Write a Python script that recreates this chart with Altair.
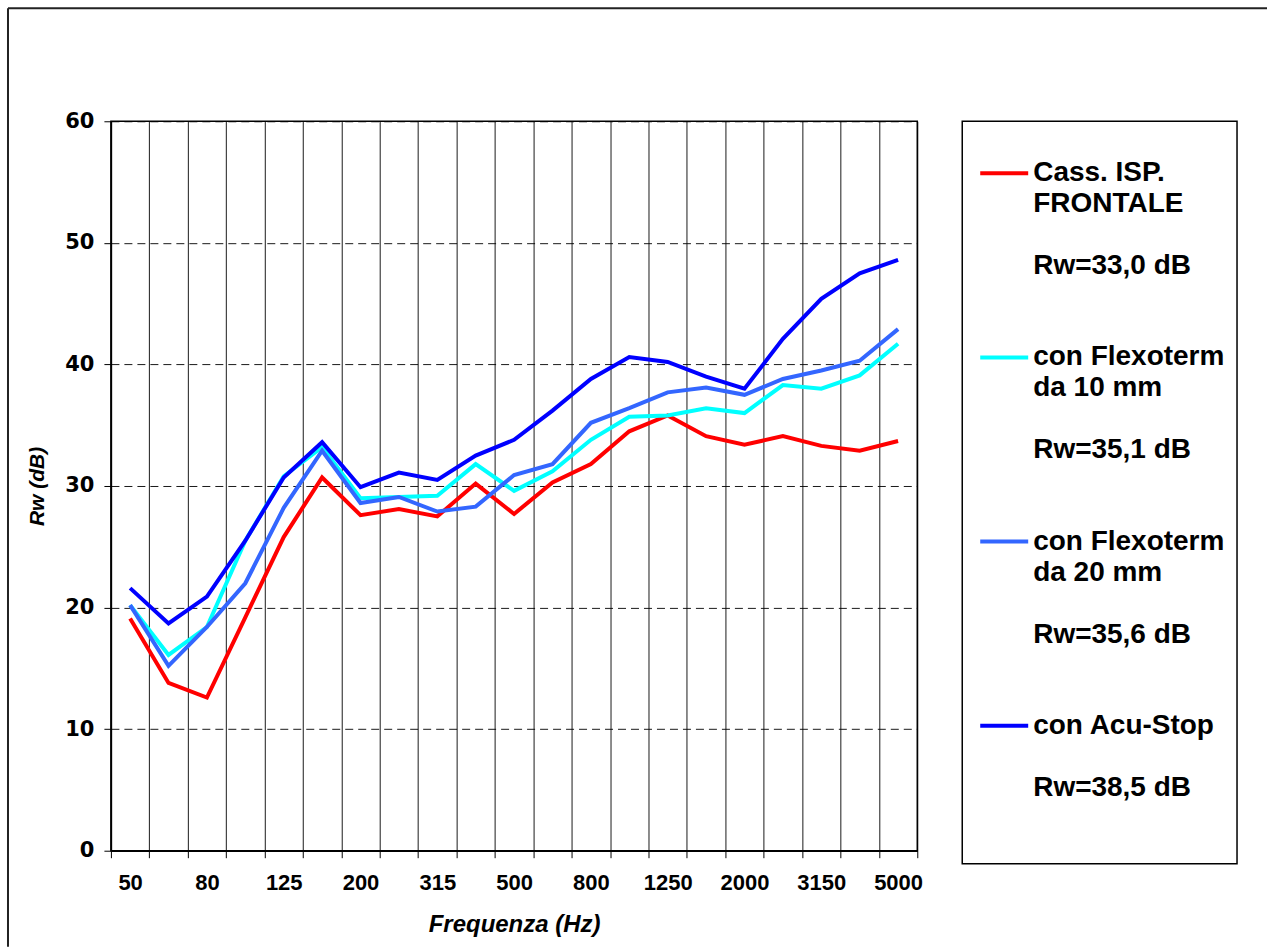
import json
import altair as alt
import pandas as pd

FREQS = ["50", "63", "80", "100", "125", "160", "200", "250", "315", "400", "500",
         "630", "800", "1000", "1250", "1600", "2000", "2500", "3150", "4000", "5000"]
SHOWN = ["50", "80", "125", "200", "315", "500", "800", "1250", "2000", "3150", "5000"]

NAMES = ["Cass. ISP. FRONTALE", "con Flexoterm da 10 mm", "con Flexoterm da 20 mm", "con Acu-Stop"]
TITLES = ["Cass. ISP.\nFRONTALE", "con Flexoterm\nda 10 mm", "con Flexoterm\nda 20 mm", "con Acu-Stop"]
RW_LABELS = ["Rw=33,0 dB", "Rw=35,1 dB", "Rw=35,6 dB", "Rw=38,5 dB"]
COLORS = ["#FF0000", "#00FFFF", "#3366FF", "#0000FF"]

RED = [19.1, 13.8, 12.6, 19.2, 25.8, 30.7, 27.6, 28.1, 27.5, 30.2, 27.7,
       30.3, 31.8, 34.5, 35.8, 34.1, 33.4, 34.1, 33.3, 32.9, 33.7]
CYAN = [20.2, 16.1, 18.4, 25.5, 30.8, 33.2, 29.0, 29.1, 29.2, 31.8, 29.6,
        31.2, 33.8, 35.7, 35.8, 36.4, 36.0, 38.3, 38.0, 39.1, 41.7]
ROYAL = [20.2, 15.2, 18.4, 22.0, 28.2, 32.9, 28.6, 29.1, 27.9, 28.3, 30.9,
         31.8, 35.2, 36.4, 37.7, 38.1, 37.5, 38.8, 39.5, 40.3, 42.9]
BLUE = [21.6, 18.7, 20.9, 25.5, 30.7, 33.6, 29.9, 31.1, 30.5, 32.5, 33.8,
        36.2, 38.8, 40.6, 40.2, 39.0, 38.0, 42.1, 45.4, 47.5, 48.6]
SERIES = [RED, CYAN, ROYAL, BLUE]

LINE_H = 31

rows = []
for name, vals in zip(NAMES, SERIES):
    for f, v in zip(FREQS, vals):
        rows.append({"freq": f, "rw": v, "name": name})
df = pd.DataFrame(rows)
leg_df = pd.DataFrame({"name": NAMES, "title": TITLES, "rwlab": RW_LABELS})

color = alt.Color("name:N", scale=alt.Scale(domain=NAMES, range=COLORS), legend=None)

label_expr = "indexof(" + json.dumps(SHOWN).replace('"', "'") + ", datum.label) >= 0 ? datum.label : ''"

x_enc = alt.X(
    "freq:O", sort=FREQS, bandPosition=0.5,
    scale=alt.Scale(type="band", paddingInner=0, paddingOuter=0),
    axis=alt.Axis(
        title="Frequenza (Hz)", labelAngle=0, labelExpr=label_expr,
        tickBand="extent", grid=True, gridColor="#000000", gridOpacity=0.9, gridWidth=1,
        ticks=True, tickSize=7, tickColor="#000000", domainColor="#000000", domainWidth=1.5,
        labelFont="Liberation Sans", labelFontWeight="bold", labelFontSize=22, labelColor="#000000",
        labelPadding=15,
        titleFont="Liberation Sans", titleFontWeight="bold", titleFontStyle="italic",
        titleFontSize=24, titleColor="#000000", titlePadding=19,
    ),
)
y_enc = alt.Y(
    "rw:Q", scale=alt.Scale(domain=[0, 60], nice=False),
    axis=alt.Axis(
        title="Rw (dB)", values=[0, 10, 20, 30, 40, 50, 60],
        grid=True, gridColor="#000000", gridDash=[8, 5], gridOpacity=0.9, gridWidth=1,
        tickSize=7, tickColor="#000000", domainColor="#000000", domainWidth=1.5,
        labelFont="DejaVu Sans", labelFontWeight="bold", labelFontSize=21, labelColor="#000000",
        labelPadding=10,
        titleFont="Liberation Sans", titleFontWeight="bold", titleFontStyle="italic",
        titleFontSize=21, titleColor="#000000", titlePadding=17,
    ),
)

layers = []
for name in NAMES:
    layers.append(
        alt.Chart(df).transform_filter(alt.datum.name == name)
        .mark_line(strokeWidth=4, strokeJoin="miter", strokeCap="butt")
        .encode(x=x_enc, y=y_enc, color=color)
    )

one = alt.Data(values=[{}])
frame_top = alt.Chart(one).mark_rule(color="#222222", strokeWidth=2).encode(
    x=alt.value(-103), x2=alt.value(1157), y=alt.value(-113))
frame_left = alt.Chart(one).mark_rule(color="#222222", strokeWidth=2).encode(
    x=alt.value(-103), y=alt.value(-113), y2=alt.value(826))

main = alt.layer(frame_top, frame_left, *layers).properties(width=807, height=730)

leg_y = alt.Y("name:N", sort=NAMES, scale=alt.Scale(type="point", range=[52, 605], padding=0), axis=None)
text_style = dict(align="left", baseline="top", dy=-14, font="Liberation Sans", fontWeight="bold",
                  fontSize=28, lineBreak="\n", lineHeight=LINE_H, color="#000000")
leg_sym = alt.Chart(leg_df).mark_rule(strokeWidth=4).encode(
    x=alt.value(18), x2=alt.value(66), y=leg_y, color=color
)
leg_title = alt.Chart(leg_df).mark_text(**text_style).encode(
    x=alt.value(71), y=leg_y, text="title:N")
leg_rw = alt.Chart(leg_df).transform_calculate(
    off=f"(length(split(datum.title, '\\n')) + 1) * {LINE_H}"
).mark_text(**text_style).encode(
    x=alt.value(71), y=leg_y, yOffset=alt.YOffset("off:Q", scale=None), text="rwlab:N")
legend = alt.layer(leg_sym, leg_title, leg_rw).properties(width=275, height=743)

chart = alt.hconcat(main, legend, spacing=45).properties(
    padding={"left": 6, "top": 6, "right": 0, "bottom": 0},
    bounds="flush",
).configure_view(stroke="#000000", strokeWidth=1.5).resolve_scale(color="shared")

chart.save("out.html", embed_options={"renderer": "svg", "actions": False})
